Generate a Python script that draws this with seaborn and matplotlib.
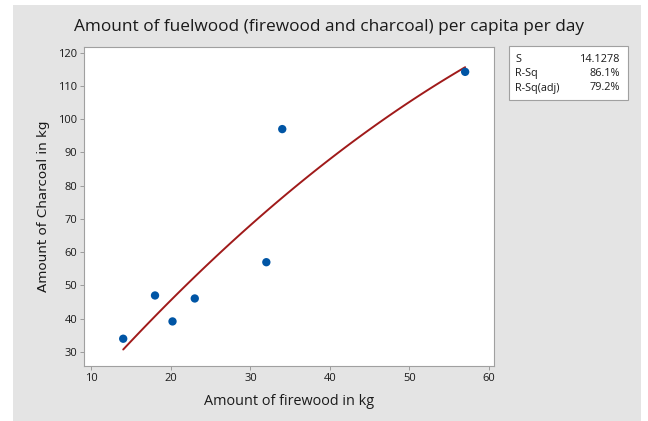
import numpy as np
import pandas as pd
import matplotlib.pyplot as plt
from matplotlib.patches import Rectangle
import seaborn as sns

sns.set_theme(style="white")
plt.rcParams["font.family"] = ["Open Sans", "DejaVu Sans"]
plt.rcParams["text.color"] = "#1a1a1a"
plt.rcParams["axes.labelcolor"] = "#1a1a1a"
plt.rcParams["xtick.color"] = "#1a1a1a"
plt.rcParams["ytick.color"] = "#1a1a1a"

firewood = [14, 18, 20.2, 23, 32, 34, 57]
charcoal = [34, 47, 39.2, 46.1, 57, 97, 114.2]
stat_names = ["S", "R-Sq", "R-Sq(adj)"]
stat_values = ["14.1278", "86.1%", "79.2%"]

df = pd.DataFrame({"firewood": firewood, "charcoal": charcoal})

fig = plt.figure(figsize=(6.48, 4.21), dpi=100, facecolor="white")
fig.patches.append(Rectangle((13 / 648, 0), 628 / 648, 416 / 421,
                             transform=fig.transFigure, facecolor="#e4e4e4",
                             edgecolor="none", zorder=-10))
ax = fig.add_axes([0.130, 0.1306, 0.632, 0.758])

sns.regplot(data=df, x="firewood", y="charcoal", order=2, ci=None, ax=ax,
            scatter_kws={"s": 36, "color": "#0055a5", "alpha": 1,
                         "edgecolor": "none", "zorder": 3},
            line_kws={"color": "#a01a1a", "lw": 1.4})

ax.set_xlim(9.1, 60.6)
ax.set_ylim(25.8, 121.7)
ax.set_xticks([10, 20, 30, 40, 50, 60])
ax.set_yticks(range(30, 121, 10))
ax.tick_params(axis="both", which="both", direction="out", length=3, width=0.6,
               color="#909090", labelsize=8, pad=2, bottom=True, left=True)
for s in ax.spines.values():
    s.set_color("#a0a0a0")
    s.set_linewidth(0.8)

ax.set_xlabel("Amount of firewood in kg", fontsize=10.4, labelpad=7)
ax.set_ylabel("Amount of Charcoal in kg", fontsize=9.7, labelpad=6,
              family=["DejaVu Sans"])
fig.text(329 / 648, 1 - 27 / 421, "Amount of fuelwood (firewood and charcoal) per capita per day",
         ha="center", va="center", fontsize=12.4)

# stats box
fig.patches.append(Rectangle((509 / 648, 1 - 100 / 421), 118.5 / 648, 54.5 / 421,
                             transform=fig.transFigure, facecolor="white",
                             edgecolor="#a0a0a0", lw=0.8))
for i, (n, v) in enumerate(zip(stat_names, stat_values)):
    yy = 1 - (59 + i * 14.5) / 421
    fig.text(515 / 648, yy, n, ha="left", va="center", fontsize=7.8)
    fig.text(620 / 648, yy, v, ha="right", va="center", fontsize=7.8)

fig.savefig("out.png", dpi=100)
